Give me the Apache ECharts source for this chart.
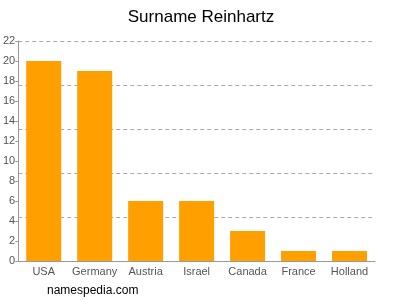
<!DOCTYPE html>
<html><head><meta charset="utf-8">
<script src="https://cdn.jsdelivr.net/npm/echarts@6/dist/echarts.min.js"></script>
<style>html,body{margin:0;padding:0;background:#fff}#c{width:400px;height:300px}</style>
</head><body><div id="c"></div>
<script>
const categories = ['USA','Germany','Austria','Israel','Canada','France','Holland'];
const counts = [20, 19, 6, 6, 3, 1, 1];
const yMax = 22;
const labelInterval = 2;
const gridInterval = 4.4;

const chart = echarts.init(document.getElementById('c'), null, {renderer:'canvas'});
chart.setOption({
  animation: false,
  backgroundColor: '#fff',
  title: {
    text: 'Surname Reinhartz', left: 196, top: 4, textAlign: 'center',
    textStyle: {fontFamily: 'Liberation Sans, Arial', fontSize: 17, fontWeight: 'normal', color: '#000'}
  },
  graphic: [{
    type: 'text', left: 47, top: 285,
    style: {text: 'namespedia.com', fontFamily: 'Liberation Sans, Arial', fontSize: 12, fill: '#000'}
  }],
  grid: {left: 17, right: 25, top: 41, bottom: 39, containLabel: false},
  xAxis: {
    type: 'category', data: categories,
    axisLine: {lineStyle: {color: '#999'}},
    axisTick: {alignWithLabel: true, length: 3, lineStyle: {color: '#999'}},
    axisLabel: {interval: 0, color: '#555', fontFamily: 'Liberation Sans, Arial', fontSize: 11, margin: 5}
  },
  yAxis: [{
    type: 'value', min: 0, max: yMax, interval: labelInterval,
    axisLine: {show: true, lineStyle: {color: '#999'}},
    axisTick: {show: true, length: 3, lineStyle: {color: '#999'}},
    splitLine: {show: false},
    axisLabel: {color: '#555', fontFamily: 'Liberation Sans, Arial', fontSize: 11, margin: 3}
  }, {
    type: 'value', min: 0, max: yMax, interval: gridInterval, position: 'left',
    axisLine: {show: false}, axisTick: {show: false}, axisLabel: {show: false},
    splitLine: {show: true, lineStyle: {color: '#aaa', type: [4, 3], width: 1}}
  }],
  series: [{
    type: 'bar', data: counts, yAxisIndex: 0, barWidth: 35,
    itemStyle: {color: '#ffa000'}
  }]
});
</script></body></html>
